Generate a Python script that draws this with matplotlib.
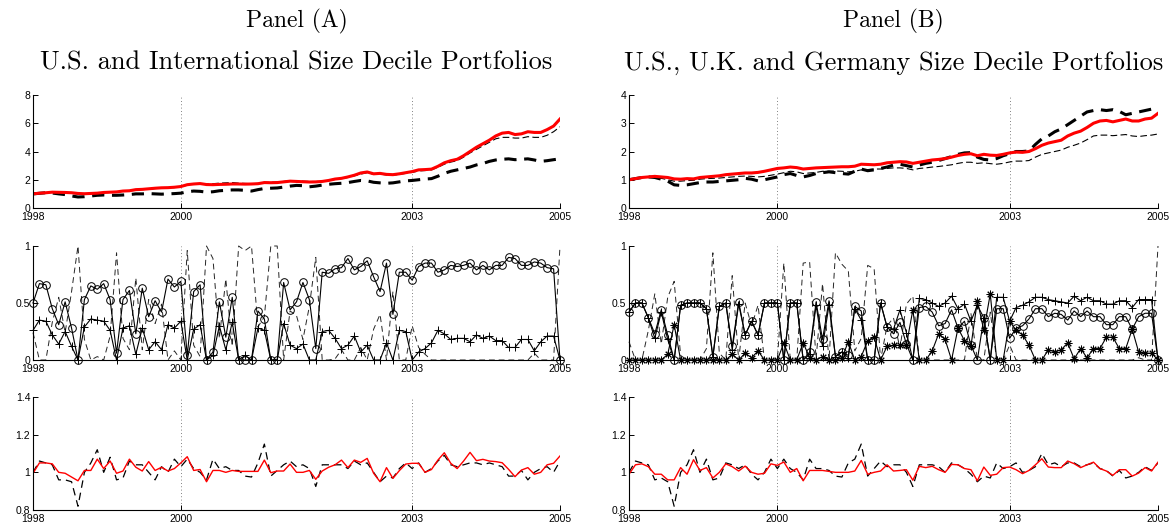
import matplotlib
matplotlib.use('Agg')
import matplotlib.pyplot as plt
import numpy as np

# ---------------- data ----------------
x_tick_labels = ['1998', '2000', '2003', '2005']
x_tick_index = [0, 23, 59, 82]

panel_titles = ['Panel (A)', 'Panel (B)']
panel_subtitles = ['U.S. and International Size Decile Portfolios',
                   'U.S., U.K. and Germany Size Decile Portfolios']

# Panel A top: cumulative wealth
a_top_red = [1.00, 1.05, 1.08, 1.12, 1.11, 1.10, 1.08, 1.03, 1.01, 1.03, 1.05, 1.10, 1.12, 1.14, 1.20, 1.22,
             1.30, 1.32, 1.36, 1.40, 1.43, 1.44, 1.47, 1.52, 1.65, 1.70, 1.73, 1.66, 1.65, 1.67, 1.68, 1.70,
             1.70, 1.69, 1.70, 1.72, 1.80, 1.79, 1.80, 1.85, 1.90, 1.88, 1.86, 1.84, 1.85, 1.88, 1.95, 2.05,
             2.10, 2.20, 2.32, 2.48, 2.55, 2.42, 2.45, 2.38, 2.36, 2.42, 2.50, 2.58, 2.70, 2.72, 2.75, 2.95,
             3.20, 3.35, 3.45, 3.70, 4.00, 4.30, 4.55, 4.80, 5.10, 5.30, 5.35, 5.20, 5.25, 5.40, 5.35, 5.35,
             5.55, 5.80, 6.30]
a_top_thin = [1.00, 1.04, 1.07, 1.10, 1.09, 1.07, 1.04, 0.98, 0.97, 1.00, 1.02, 1.08, 1.10, 1.12, 1.18, 1.20,
              1.27, 1.30, 1.34, 1.38, 1.40, 1.42, 1.45, 1.50, 1.62, 1.68, 1.75, 1.70, 1.72, 1.76, 1.78, 1.80,
              1.76, 1.74, 1.72, 1.74, 1.82, 1.82, 1.84, 1.88, 1.94, 1.92, 1.90, 1.88, 1.87, 1.90, 1.95, 2.02,
              2.08, 2.16, 2.28, 2.40, 2.50, 2.38, 2.40, 2.34, 2.32, 2.38, 2.45, 2.52, 2.62, 2.65, 2.70, 2.88,
              3.10, 3.25, 3.35, 3.60, 3.90, 4.15, 4.40, 4.65, 4.90, 5.00, 5.00, 4.95, 4.95, 5.05, 5.00, 5.00,
              5.15, 5.40, 5.75]
a_top_thick = [1.00, 1.04, 1.08, 1.06, 1.00, 0.95, 0.85, 0.78, 0.80, 0.85, 0.90, 0.92, 0.90, 0.90, 0.92, 0.95,
               1.00, 1.00, 1.02, 1.00, 0.98, 1.00, 1.02, 1.05, 1.15, 1.20, 1.18, 1.12, 1.15, 1.22, 1.25, 1.28,
               1.28, 1.25, 1.20, 1.30, 1.38, 1.40, 1.42, 1.48, 1.55, 1.60, 1.58, 1.50, 1.55, 1.62, 1.68, 1.72,
               1.75, 1.80, 1.88, 1.95, 1.92, 1.82, 1.78, 1.75, 1.78, 1.85, 1.92, 1.95, 2.00, 2.05, 2.08, 2.25,
               2.45, 2.60, 2.70, 2.80, 2.90, 3.05, 3.15, 3.30, 3.40, 3.45, 3.48, 3.42, 3.45, 3.48, 3.40, 3.30,
               3.35, 3.42, 3.48]

# Panel A middle: portfolio weights
a_mid_circle = [0.50, 0.67, 0.66, 0.45, 0.31, 0.51, 0.28, 0.00, 0.53, 0.65, 0.62, 0.67, 0.53, 0.06, 0.53, 0.61,
                0.23, 0.63, 0.38, 0.52, 0.42, 0.71, 0.64, 0.69, 0.04, 0.60, 0.66, 0.00, 0.07, 0.51, 0.20, 0.55,
                0.00, 0.00, 0.00, 0.43, 0.36, 0.00, 0.00, 0.68, 0.44, 0.51, 0.68, 0.53, 0.10, 0.77, 0.76, 0.80,
                0.81, 0.89, 0.79, 0.82, 0.87, 0.73, 0.60, 0.85, 0.40, 0.77, 0.77, 0.70, 0.82, 0.85, 0.85, 0.77,
                0.79, 0.83, 0.82, 0.83, 0.85, 0.79, 0.83, 0.79, 0.83, 0.83, 0.90, 0.89, 0.83, 0.83, 0.86, 0.85,
                0.81, 0.80, 0.00]
a_mid_plus = [0.26, 0.35, 0.34, 0.22, 0.14, 0.25, 0.12, 0.00, 0.29, 0.36, 0.35, 0.34, 0.26, 0.00, 0.28, 0.30,
              0.05, 0.28, 0.09, 0.16, 0.09, 0.31, 0.28, 0.34, 0.00, 0.27, 0.31, 0.00, 0.04, 0.30, 0.09, 0.33,
              0.00, 0.04, 0.00, 0.28, 0.26, 0.00, 0.00, 0.32, 0.13, 0.10, 0.14, 0.00, 0.00, 0.25, 0.26, 0.19,
              0.10, 0.13, 0.21, 0.07, 0.13, 0.00, 0.00, 0.15, 0.00, 0.26, 0.25, 0.00, 0.07, 0.10, 0.15, 0.26,
              0.23, 0.18, 0.19, 0.19, 0.16, 0.22, 0.19, 0.21, 0.17, 0.17, 0.11, 0.11, 0.18, 0.18, 0.08, 0.16,
              0.21, 0.21, 0.00]
a_mid_dash = [0.24, 0.00, 0.00, 0.33, 0.55, 0.24, 0.60, 1.00, 0.18, 0.00, 0.03, 0.00, 0.21, 0.94, 0.19, 0.09,
              0.72, 0.09, 0.53, 0.32, 0.49, 0.00, 0.08, 0.00, 0.96, 0.13, 0.03, 1.00, 0.89, 0.19, 0.71, 0.12,
              1.00, 0.96, 1.00, 0.29, 0.38, 1.00, 1.00, 0.00, 0.43, 0.39, 0.18, 0.47, 0.90, 0.00, 0.00, 0.01,
              0.09, 0.00, 0.00, 0.11, 0.00, 0.27, 0.40, 0.00, 0.60, 0.00, 0.00, 0.30, 0.11, 0.05, 0.00, 0.00,
              0.00, 0.00, 0.00, 0.00, 0.00, 0.00, 0.00, 0.00, 0.00, 0.00, 0.00, 0.00, 0.00, 0.00, 0.06, 0.00,
              0.00, 0.00, 1.00]

# Panel A bottom: gross returns
a_bot_red = [0.995, 1.05, 1.05, 1.045, 1.00, 0.995, 0.975, 0.955, 1.01, 1.01, 1.07, 1.02, 1.06, 0.995, 1.007,
             1.07, 1.027, 1.007, 1.057, 1.01, 1.027, 1.007, 1.02, 1.05, 1.083, 1.01, 1.015, 0.95, 1.01, 1.01,
             1.00, 1.01, 1.005, 1.005, 1.005, 1.005, 1.065, 0.998, 1.007, 1.007, 1.044, 1.00, 1.00, 1.01, 0.963,
             1.007, 1.027, 1.04, 1.065, 1.025, 1.065, 1.053, 1.074, 0.995, 0.95, 1.025, 0.968, 1.009, 1.044,
             1.048, 1.048, 1.00, 1.015, 1.065, 1.104, 1.048, 1.02, 1.06, 1.106, 1.062, 1.069, 1.06, 1.057,
             1.051, 1.016, 0.977, 1.012, 1.025, 0.99, 1.00, 1.04, 1.048, 1.087]
a_bot_dash = [1.00, 1.06, 1.05, 1.04, 0.96, 0.96, 0.95, 0.82, 1.00, 1.05, 1.12, 1.00, 1.08, 0.96, 0.97, 1.06,
              1.04, 1.04, 1.00, 0.96, 1.03, 1.00, 1.07, 1.03, 1.07, 1.02, 1.00, 0.96, 1.07, 1.02, 1.03, 1.01,
              1.01, 0.98, 0.975, 1.05, 1.15, 0.98, 1.01, 1.04, 1.06, 1.03, 1.04, 1.02, 0.925, 1.04, 1.04, 1.04,
              1.04, 1.02, 1.06, 1.04, 1.05, 1.00, 0.95, 0.98, 0.97, 1.02, 1.05, 1.02, 1.05, 1.00, 1.02, 1.06,
              1.09, 1.04, 1.03, 1.04, 1.05, 1.05, 1.04, 1.05, 1.04, 1.03, 0.98, 0.98, 1.01, 0.96, 1.00, 1.02,
              1.03, 1.00, 1.06]

# Panel B top
b_top_red = [1.00, 1.04, 1.08, 1.10, 1.12, 1.10, 1.08, 1.03, 1.02, 1.04, 1.03, 1.08, 1.10, 1.12, 1.14, 1.18,
             1.20, 1.22, 1.24, 1.24, 1.26, 1.30, 1.35, 1.40, 1.42, 1.45, 1.43, 1.38, 1.40, 1.42, 1.43, 1.44,
             1.45, 1.46, 1.46, 1.48, 1.55, 1.54, 1.53, 1.55, 1.60, 1.62, 1.64, 1.63, 1.58, 1.62, 1.66, 1.70,
             1.72, 1.75, 1.80, 1.86, 1.90, 1.92, 1.85, 1.90, 1.87, 1.86, 1.90, 1.95, 1.98, 1.97, 2.00, 2.10,
             2.22, 2.30, 2.35, 2.40, 2.55, 2.65, 2.72, 2.85, 3.00, 3.08, 3.10, 3.05, 3.10, 3.15, 3.08, 3.08,
             3.15, 3.18, 3.35]
b_top_thin = [1.00, 1.04, 1.08, 1.10, 1.08, 1.05, 1.00, 0.95, 0.95, 0.97, 0.98, 1.02, 1.04, 1.05, 1.06, 1.08,
              1.10, 1.12, 1.13, 1.12, 1.10, 1.12, 1.16, 1.20, 1.25, 1.30, 1.28, 1.22, 1.24, 1.26, 1.30, 1.30,
              1.31, 1.30, 1.28, 1.30, 1.35, 1.36, 1.38, 1.38, 1.40, 1.42, 1.42, 1.40, 1.35, 1.40, 1.42, 1.45,
              1.47, 1.50, 1.53, 1.58, 1.62, 1.62, 1.58, 1.60, 1.57, 1.55, 1.58, 1.63, 1.66, 1.66, 1.68, 1.80,
              1.90, 1.95, 2.00, 2.05, 2.15, 2.22, 2.30, 2.42, 2.55, 2.58, 2.58, 2.56, 2.58, 2.60, 2.55, 2.53,
              2.56, 2.58, 2.62]
b_top_thick = [1.00, 1.04, 1.08, 1.10, 1.08, 1.02, 0.95, 0.82, 0.80, 0.82, 0.86, 0.90, 0.92, 0.92, 0.94, 0.96,
               0.98, 1.00, 1.05, 1.02, 0.96, 1.00, 1.05, 1.10, 1.18, 1.22, 1.15, 1.10, 1.15, 1.22, 1.25, 1.28,
               1.25, 1.22, 1.20, 1.30, 1.38, 1.32, 1.35, 1.40, 1.45, 1.52, 1.55, 1.50, 1.45, 1.52, 1.58, 1.62,
               1.68, 1.75, 1.82, 1.90, 1.95, 1.96, 1.80, 1.72, 1.70, 1.75, 1.85, 1.92, 2.00, 2.00, 2.02, 2.25,
               2.45, 2.55, 2.70, 2.80, 2.95, 3.10, 3.25, 3.40, 3.45, 3.48, 3.45, 3.48, 3.42, 3.30, 3.35, 3.40,
               3.45, 3.50, 3.58]

# Panel B middle
b_mid_circle = [0.42, 0.50, 0.50, 0.37, 0.23, 0.44, 0.22, 0.00, 0.48, 0.50, 0.50, 0.50, 0.45, 0.03, 0.47, 0.50,
                0.12, 0.51, 0.22, 0.34, 0.22, 0.50, 0.50, 0.50, 0.00, 0.50, 0.50, 0.00, 0.07, 0.51, 0.18, 0.52,
                0.03, 0.07, 0.04, 0.47, 0.43, 0.00, 0.00, 0.50, 0.29, 0.23, 0.33, 0.14, 0.00, 0.46, 0.47, 0.42,
                0.30, 0.32, 0.44, 0.28, 0.34, 0.13, 0.00, 0.37, 0.00, 0.45, 0.45, 0.19, 0.28, 0.30, 0.36, 0.45,
                0.45, 0.38, 0.41, 0.40, 0.35, 0.43, 0.38, 0.43, 0.38, 0.38, 0.31, 0.31, 0.38, 0.38, 0.27, 0.38,
                0.41, 0.41, 0.00]
b_mid_plus = [0.42, 0.50, 0.50, 0.37, 0.19, 0.42, 0.18, 0.00, 0.48, 0.50, 0.50, 0.50, 0.45, 0.03, 0.47, 0.50,
              0.09, 0.49, 0.22, 0.34, 0.22, 0.50, 0.50, 0.50, 0.00, 0.50, 0.50, 0.00, 0.05, 0.48, 0.12, 0.48,
              0.03, 0.07, 0.02, 0.45, 0.35, 0.00, 0.00, 0.50, 0.29, 0.27, 0.44, 0.24, 0.00, 0.54, 0.53, 0.50,
              0.47, 0.50, 0.56, 0.45, 0.49, 0.34, 0.48, 0.37, 0.00, 0.55, 0.55, 0.34, 0.46, 0.48, 0.51, 0.55,
              0.55, 0.53, 0.52, 0.51, 0.50, 0.56, 0.52, 0.55, 0.52, 0.52, 0.49, 0.49, 0.52, 0.52, 0.46, 0.53,
              0.53, 0.53, 0.00]
b_mid_star = [0.00, 0.00, 0.00, 0.00, 0.00, 0.00, 0.05, 0.31, 0.00, 0.00, 0.00, 0.00, 0.00, 0.00, 0.00, 0.00,
              0.05, 0.00, 0.06, 0.02, 0.08, 0.00, 0.00, 0.00, 0.15, 0.00, 0.00, 0.15, 0.02, 0.00, 0.03, 0.00,
              0.00, 0.02, 0.16, 0.00, 0.03, 0.17, 0.20, 0.00, 0.12, 0.13, 0.13, 0.13, 0.44, 0.00, 0.00, 0.08,
              0.23, 0.18, 0.00, 0.28, 0.17, 0.12, 0.52, 0.26, 0.58, 0.00, 0.00, 0.34, 0.26, 0.22, 0.13, 0.00,
              0.00, 0.09, 0.07, 0.09, 0.15, 0.01, 0.10, 0.02, 0.10, 0.10, 0.20, 0.20, 0.10, 0.10, 0.27, 0.07,
              0.06, 0.06, 0.00]
b_mid_dash = [0.16, 0.00, 0.00, 0.26, 0.58, 0.14, 0.55, 0.69, 0.04, 0.00, 0.00, 0.00, 0.10, 0.94, 0.06, 0.00,
              0.74, 0.00, 0.50, 0.30, 0.48, 0.00, 0.00, 0.00, 0.85, 0.00, 0.00, 0.85, 0.86, 0.01, 0.67, 0.00,
              0.94, 0.84, 0.78, 0.08, 0.19, 0.83, 0.80, 0.00, 0.30, 0.37, 0.10, 0.49, 0.56, 0.00, 0.00, 0.00,
              0.00, 0.00, 0.00, 0.00, 0.00, 0.41, 0.00, 0.00, 0.42, 0.00, 0.00, 0.13, 0.00, 0.00, 0.00, 0.00,
              0.00, 0.00, 0.00, 0.00, 0.00, 0.00, 0.00, 0.00, 0.00, 0.00, 0.00, 0.00, 0.00, 0.00, 0.00, 0.02,
              0.00, 0.00, 1.00]

# Panel B bottom
b_bot_red = [0.99, 1.04, 1.045, 1.03, 0.99, 0.99, 0.96, 0.96, 1.025, 0.99, 1.067, 1.01, 1.025, 0.97, 1.00,
             1.045, 1.03, 1.007, 1.033, 1.00, 0.99, 0.995, 1.045, 1.037, 1.055, 1.00, 1.02, 0.955, 1.01, 1.01,
             1.01, 1.005, 1.00, 1.00, 1.00, 1.007, 1.063, 0.99, 1.00, 1.007, 1.04, 1.007, 1.01, 1.014, 0.958,
             1.032, 1.025, 1.032, 1.014, 1.00, 1.042, 1.04, 1.02, 1.014, 0.955, 1.028, 0.984, 0.99, 1.025,
             1.028, 1.014, 0.993, 1.01, 1.04, 1.072, 1.028, 1.025, 1.025, 1.06, 1.046, 1.025, 1.04, 1.054,
             1.02, 1.007, 0.984, 1.014, 1.014, 0.98, 0.996, 1.025, 1.007, 1.054]
b_bot_dash = [1.00, 1.06, 1.05, 1.04, 0.96, 0.97, 0.95, 0.82, 1.00, 1.04, 1.12, 1.00, 1.07, 0.96, 0.97, 1.05,
              1.04, 1.02, 1.04, 0.99, 0.96, 1.00, 1.07, 1.02, 1.07, 1.02, 1.00, 0.96, 1.07, 1.02, 1.02, 1.01,
              0.98, 0.975, 1.05, 1.07, 1.15, 0.98, 1.02, 1.06, 1.03, 1.04, 1.04, 1.00, 0.925, 1.04, 1.04, 1.04,
              1.03, 1.00, 1.05, 1.04, 1.02, 0.99, 0.95, 0.98, 0.97, 1.05, 1.02, 1.03, 1.05, 1.00, 1.01, 1.03,
              1.10, 1.04, 1.05, 1.03, 1.05, 1.05, 1.03, 1.04, 1.05, 1.02, 1.01, 0.98, 1.01, 0.97, 0.98, 1.00,
              1.03, 1.01, 1.05]

top_a_yticks = [0, 2, 4, 6, 8]
top_b_yticks = [0, 1, 2, 3, 4]
mid_yticks = [0, 0.5, 1]
mid_yticklabels = ['0', '0.5', '1']
bot_yticks = [0.8, 1.0, 1.2, 1.4]
bot_yticklabels = ['0.8', '1', '1.2', '1.4']

# ---------------- figure ----------------
W, H = 1169, 527
fig = plt.figure(figsize=(W / 100, H / 100), dpi=100)
TICKFONT = dict(family='Liberation Sans', size=7.5)


def px_axes(x0, x1, ytop, ybot):
    return fig.add_axes([x0 / W, 1 - ybot / H, (x1 - x0) / W, (ybot - ytop) / H])


def style(ax, ylim, yticks, yticklabels=None):
    n = len(a_top_red)
    ax.set_xlim(0, n - 1)
    ax.set_ylim(*ylim)
    ax.set_xticks(x_tick_index)
    ax.set_xticklabels(x_tick_labels, **TICKFONT)
    ax.set_yticks(yticks)
    ax.set_yticklabels(yticklabels if yticklabels else [str(t) for t in yticks], **TICKFONT)
    for s in ['top', 'right']:
        ax.spines[s].set_visible(False)
    for s in ['left', 'bottom']:
        ax.spines[s].set_linewidth(0.8)
    ax.tick_params(direction='in', length=3.5, width=0.7)
    ax.tick_params(axis='x', pad=3.0)
    ax.tick_params(axis='y', pad=2.0)
    for xi in x_tick_index[1:]:
        ax.axvline(xi, color='0.35', lw=0.6, ls=(0, (1, 3)), zorder=0)


xs = np.arange(len(a_top_red))
panels = [(33, 560), (629, 1158)]
rows = [(95, 208), (246, 360), (397, 510)]

data = [
    dict(top=(a_top_red, a_top_thin, a_top_thick), topyl=(0, 8), topyt=top_a_yticks,
         mid=[('o', a_mid_circle), ('+', a_mid_plus)], middash=a_mid_dash,
         bot=(a_bot_red, a_bot_dash)),
    dict(top=(b_top_red, b_top_thin, b_top_thick), topyl=(0, 4), topyt=top_b_yticks,
         mid=[('o', b_mid_circle), ('+', b_mid_plus), ((8, 2, 0), b_mid_star)], middash=b_mid_dash,
         bot=(b_bot_red, b_bot_dash)),
]

for p, ((x0, x1), d) in enumerate(zip(panels, data)):
    cx = (x0 + x1) / 2 / W
    fig.text(cx, 1 - 21 / H, panel_titles[p], family='cmr10', size=17, ha='center', va='center')
    fig.text(cx, 1 - 63 / H, panel_subtitles[p], family='cmr10', size=19, ha='center', va='center')

    # top
    ax = px_axes(x0, x1, *rows[0])
    red, thin, thick = d['top']
    ax.plot(xs, thick, color='black', lw=2.2, dashes=(4, 2.5))
    ax.plot(xs, thin, color='black', lw=0.8, dashes=(6, 3))
    ax.plot(xs, red, color='red', lw=2.2)
    style(ax, d['topyl'], d['topyt'])

    # middle
    ax = px_axes(x0, x1, *rows[1])
    ax.plot(xs, d['middash'], color='0.15', lw=0.7, dashes=(6, 4), clip_on=False)
    for mk, vals in d['mid']:
        ax.plot(xs, vals, color='black', lw=0.8, marker=mk, markersize=5.5,
                markerfacecolor='none', markeredgecolor='black', markeredgewidth=0.7, clip_on=False)
    style(ax, (0, 1), mid_yticks, mid_yticklabels)

    # bottom
    ax = px_axes(x0, x1, *rows[2])
    red, dash = d['bot']
    ax.plot(xs, dash, color='black', lw=0.9, dashes=(6, 4))
    ax.plot(xs, red, color='red', lw=1.0)
    style(ax, (0.8, 1.4), bot_yticks, bot_yticklabels)

fig.savefig('out.png', dpi=100)
